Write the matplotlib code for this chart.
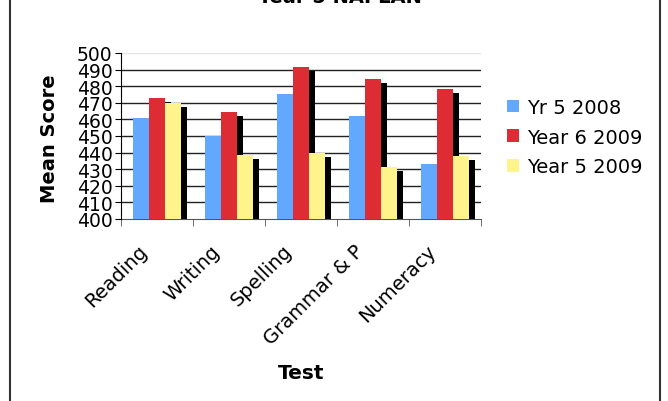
import matplotlib
matplotlib.use("Agg")
import matplotlib.pyplot as plt
import matplotlib.transforms as mtransforms
from matplotlib.patches import Rectangle
import numpy as np

tests = ["Reading", "Writing", "Spelling", "Grammar & P", "Numeracy"]
series_names = ["Yr 5 2008", "Year 6 2009", "Year 5 2009"]
yr5_2008 = [460.8, 450.0, 475.3, 462.0, 433.1]
yr6_2009 = [472.9, 464.5, 491.6, 484.3, 478.3]
yr5_2009 = [470.1, 438.6, 439.8, 431.3, 438.0]
colors = ["#62A8FF", "#DD2C33", "#FFF48C"]

fig = plt.figure(figsize=(6.68, 4.02), dpi=100)
ax = fig.add_axes([121 / 668, 1 - 220 / 402, 360 / 668, 166 / 402])

x = np.arange(len(tests))
width = 0.222
shadow = mtransforms.ScaledTranslation(6 / 100, -4 / 100, fig.dpi_scale_trans)
z = 2
for i, (name, vals, col) in enumerate(zip(series_names, [yr5_2008, yr6_2009, yr5_2009], colors)):
    pos = x + (i - 1) * width
    bars = ax.bar(pos, np.array(vals) - 400, width, bottom=400, color="black", zorder=z)
    for b in bars:
        b.set_transform(ax.transData + shadow)
    ax.bar(pos, np.array(vals) - 400, width, bottom=400, color=col, zorder=z + 1, label=name)
    z += 2

ax.set_ylim(400, 500)
ax.set_xlim(-0.5, len(tests) - 0.5)
ax.set_yticks(np.arange(400, 501, 10))
ax.tick_params(axis="y", labelsize=13.5, length=4, pad=2, direction="out")
for yv in range(410, 500, 10):
    ax.axhline(yv, color="#222222", linewidth=1, zorder=1)
ax.axhline(500, color="#e4e4e4", linewidth=1, zorder=1)

ax.set_xticks(x)
ax.set_xticklabels(tests, rotation=45, ha="right", rotation_mode="anchor", fontsize=14)
ax.tick_params(axis="x", length=0, pad=10)
lab_shift = mtransforms.ScaledTranslation(-19 / 100, -8 / 100, fig.dpi_scale_trans)
for lab in ax.get_xticklabels():
    lab.set_transform(lab.get_transform() + lab_shift)
ax.set_xticks(np.arange(-0.5, len(tests), 1.0), minor=True)
ax.tick_params(axis="x", which="minor", length=5, color="#555555")

for s in ["top", "right"]:
    ax.spines[s].set_visible(False)
ax.spines["left"].set_color("black")
ax.spines["bottom"].set_color("#555555")
ax.spines["left"].set_zorder(10)

fig.text(50 / 668, 1 - 139 / 402, "Mean Score", fontsize=14, fontweight="bold",
         rotation=90, ha="center", va="center")
fig.text(301 / 668, 1 - 374 / 402, "Test", fontsize=14.5, fontweight="bold", ha="center", va="center")
fig.text(340 / 668, 1 - 3 / 402, "Year 5 NAPLAN", fontsize=14, fontweight="bold", ha="center", va="baseline")

ax.legend(loc="center left", bbox_to_anchor=(490 / 668, 1 - 138 / 402), bbox_transform=fig.transFigure,
          frameon=False, fontsize=14, handlelength=0.6, handleheight=0.6, handletextpad=0.4, labelspacing=0.55)

fig.patches.append(Rectangle((10 / 668, -0.1), 650 / 668, 1.2, transform=fig.transFigure,
                             fill=False, edgecolor="#333333", linewidth=1.5))

fig.savefig("out.png", dpi=100)
